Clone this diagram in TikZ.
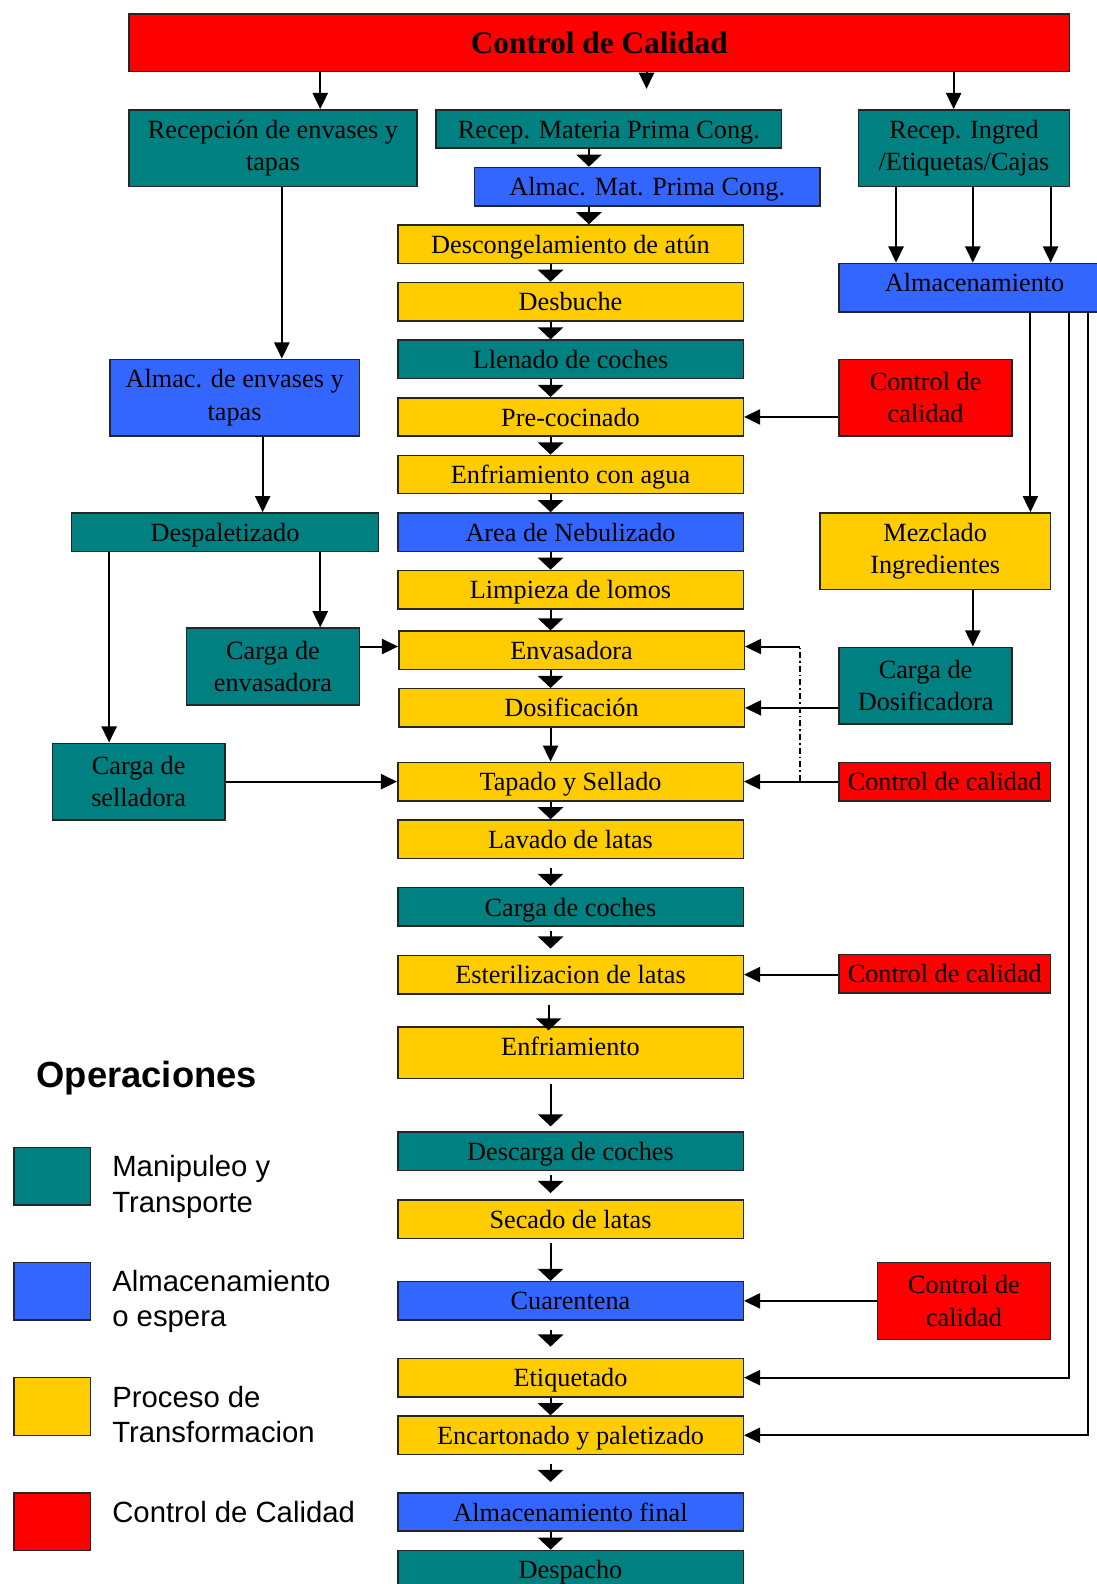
\documentclass[tikz,border=0pt]{standalone}
\usepackage{fontspec}
\setmainfont{Liberation Serif}
\setsansfont{Liberation Sans}
\usetikzlibrary{arrows.meta}
\definecolor{cteal}{RGB}{0,128,128}
\definecolor{cblue}{RGB}{51,102,255}
\definecolor{cyel}{RGB}{255,204,0}
\definecolor{cred}{RGB}{255,0,0}
% two-line box
\newcommand\bx[7]{\node[box,fill=#6,anchor=north west,minimum width={#4-#2},minimum height={#5-#3}] (#1) at (#2,#3) {#7};}
% one-line box: baseline 28 below the top; #8 = height-28
\newcommand\bxo[8]{\node[box,fill=#6,anchor=north west,minimum width={#4-#2},minimum height={#5-#3},text height=28pt,text depth=#8pt] (#1) at (#2,#3) {#7};}
\tikzset{
  box/.style={draw=black!85,line width=1.5pt,inner sep=0pt,align=center,font=\fontsize{26}{32}\selectfont},
  conn/.style={draw=black,line width=2pt},
  arrN/.style={conn,-{Triangle[width=15pt,length=16pt]}},
  arrW/.style={conn,-{Triangle[width=25pt,length=12pt]}},
  dashdot/.style={draw=black,line width=1.2pt,dash pattern=on 6pt off 3pt on 1.5pt off 3pt},
  swatch/.style={draw=black!85,line width=1.5pt,inner sep=0pt,minimum width=76pt,minimum height=57pt,anchor=north west},
  legtext/.style={anchor=west,align=left,inner sep=0pt,font=\sffamily\fontsize{29}{35}\selectfont}
}
\begin{document}
\begin{tikzpicture}[x=1pt,y=-1pt]
\useasboundingbox (0,0) rectangle (1085,1568);
% column coordinates
\coordinate (cA) at (317,0);
\coordinate (cB) at (640,0);
\coordinate (cC) at (944,0);
\coordinate (cD) at (583,0);
\coordinate (cM) at (545,0);
\coordinate (cE) at (543,0);
\coordinate (cR1) at (887,0);
\coordinate (cR2) at (963,0);
\coordinate (cR3) at (1040,0);
\coordinate (cL1) at (279,0);
\coordinate (cL2) at (260,0);
\coordinate (cL4) at (108,0);
\coordinate (cM2) at (1020,0);
\coordinate (cV1) at (1058,0);
\coordinate (cV2) at (1077,0);
\coordinate (r640) at (0,640);
\coordinate (ddtop) at (792,640);
\coordinate (ddbot) at (792,773);
\coordinate (topend) at (640,88);
% boxes
\node[box,fill=cred,anchor=north west,minimum width=931pt,minimum height=57pt,font=\bfseries\fontsize{31}{36}\selectfont] (top) at (127,13) {Control de Calidad};
\bx{rec}{127}{108}{412}{184}{cteal}{Recepción de envases y\\tapas}
\bxo{rmp}{431}{108}{773}{146}{cteal}{Recep. Materia Prima Cong.}{10}
\bx{ring}{849}{108}{1058}{184}{cteal}{Recep. Ingred\\/Etiquetas/Cajas}
\bxo{amp}{469}{165}{811}{203}{cblue}{Almac. Mat. Prima Cong.}{10}
\bxo{desc}{393}{222}{735}{260}{cyel}{Descongelamiento de atún}{10}
\bxo{desb}{393}{279}{735}{317}{cyel}{Desbuche}{10}
\bxo{llen}{393}{336}{735}{374}{cteal}{Llenado de coches}{10}
\bxo{prec}{393}{393}{735}{431}{cyel}{Pre-cocinado}{10}
\bxo{enfa}{393}{450}{735}{488}{cyel}{Enfriamiento con agua}{10}
\bxo{neb}{393}{507}{735}{545}{cblue}{Area de Nebulizado}{10}
\bxo{limp}{393}{564}{735}{602}{cyel}{Limpieza de lomos}{10}
\bxo{env}{394}{624}{736}{662}{cyel}{Envasadora}{10}
\bxo{dos}{394}{681}{736}{719}{cyel}{Dosificación}{10}
\bxo{tap}{393}{754}{735}{792}{cyel}{Tapado y Sellado}{10}
\bxo{lav}{393}{811}{735}{849}{cyel}{Lavado de latas}{10}
\bxo{carc}{393}{878}{735}{916}{cteal}{Carga de coches}{10}
\bxo{est}{393}{945}{735}{983}{cyel}{Esterilizacion de latas}{10}
\bxo{enfr}{393}{1016}{735}{1067}{cyel}{Enfriamiento}{23}
\bxo{desca}{393}{1120}{735}{1158}{cteal}{Descarga de coches}{10}
\bxo{sec}{393}{1187}{735}{1225}{cyel}{Secado de latas}{10}
\bxo{cuar}{393}{1268}{735}{1306}{cblue}{Cuarentena}{10}
\bxo{etiq}{393}{1344}{735}{1382}{cyel}{Etiquetado}{10}
\bxo{enc}{393}{1401}{735}{1439}{cyel}{Encartonado y paletizado}{10}
\bxo{almf}{393}{1477}{735}{1515}{cblue}{Almacenamiento final}{10}
\bxo{desp}{393}{1534}{735}{1572}{cteal}{Despacho}{10}
% right
\bxo{alm}{830}{260}{1098}{308}{cblue}{Almacenamiento}{20}
\bx{cc1}{830}{355}{1001}{431}{cred}{Control de\\calidad}
\bx{mez}{811}{507}{1039}{583}{cyel}{Mezclado\\Ingredientes}
\bx{cdos}{830}{640}{1001}{716}{cteal}{Carga de\\Dosificadora}
\bxo{cc2}{830}{754}{1039}{792}{cred}{Control de calidad}{10}
\bxo{cc3}{830}{944}{1039}{982}{cred}{Control de calidad}{10}
\bx{cc4}{868}{1249}{1039}{1325}{cred}{Control de\\calidad}
% left
\bx{alme}{108}{355}{355}{431}{cblue}{Almac. de envases y\\tapas}
\bxo{despal}{70}{507}{374}{545}{cteal}{Despaletizado}{10}
\bx{cenv}{184}{621}{355}{697}{cteal}{Carga de\\envasadora}
\bx{csel}{51}{735}{222}{811}{cteal}{Carga de\\selladora}
% legend
\node[anchor=west,inner sep=0pt,font=\sffamily\bfseries\fontsize{36}{40}\selectfont] (oper) at (36,1067) {Operaciones};
\node[swatch,fill=cteal] (sw1) at (13,1135) {};
\node[swatch,fill=cblue] (sw2) at (13,1249) {};
\node[swatch,fill=cyel] (sw3) at (13,1363) {};
\node[swatch,fill=cred] (sw4) at (13,1477) {};
\node[legtext] (lg1) at (111,1175) {Manipuleo y\\Transporte};
\node[legtext] (lg2) at (111,1288) {Almacenamiento\\o espera};
\node[legtext] (lg3) at (111,1400) {Proceso de\\Transformacion};
\node[legtext] (lg4) at (111,1497) {Control de Calidad};
% top arrows
\draw[arrN] (top.south -| cA) -- (rec.north -| cA);
\draw[arrN] (top.south -| cB) -- (topend);
\draw[arrN] (top.south -| cC) -- (ring.north -| cC);
% main column
\draw[arrW] (rmp.south -| cD) -- (amp.north -| cD);
\draw[arrW] (amp.south -| cD) -- (desc.north -| cD);
\draw[arrW] (desc.south -| cM) -- (desb.north -| cM);
\draw[arrW] (desb.south -| cM) -- (llen.north -| cM);
\draw[arrW] (llen.south -| cM) -- (prec.north -| cM);
\draw[arrW] (prec.south -| cM) -- (enfa.north -| cM);
\draw[arrW] (enfa.south -| cM) -- (neb.north -| cM);
\draw[arrW] (neb.south -| cM) -- (limp.north -| cM);
\draw[arrW] (limp.south -| cM) -- (env.north -| cM);
\draw[arrW] (env.south -| cM) -- (dos.north -| cM);
\draw[arrN] (dos.south -| cM) -- (tap.north -| cM);
\draw[arrW] (tap.south -| cM) -- (lav.north -| cM);
\draw[arrW] ([yshift=-9pt]lav.south -| cM) -- ([yshift=1pt]carc.north -| cM);
\draw[arrW] ([yshift=-4pt]carc.south -| cM) -- ([yshift=6pt]est.north -| cM);
\draw[arrW] ([yshift=-10pt]est.south -| cE) -- ([yshift=-4pt]enfr.north -| cE);
\draw[arrW] ([yshift=-5pt]enfr.south -| cM) -- ([yshift=5pt]desca.north -| cM);
\draw[arrW] ([yshift=-4pt]desca.south -| cM) -- ([yshift=6pt]sec.north -| cM);
\draw[arrW] ([yshift=-4pt]sec.south -| cM) -- (cuar.north -| cM);
\draw[arrW] ([yshift=-9pt]cuar.south -| cM) -- ([yshift=11pt]etiq.north -| cM);
\draw[arrW] (etiq.south -| cM) -- (enc.north -| cM);
\draw[arrW] ([yshift=-9pt]enc.south -| cM) -- ([yshift=10pt]almf.north -| cM);
\draw[arrW] (almf.south -| cM) -- (desp.north -| cM);
% right side
\draw[arrN] (ring.south -| cR1) -- (alm.north -| cR1);
\draw[arrN] (ring.south -| cR2) -- (alm.north -| cR2);
\draw[arrN] (ring.south -| cR3) -- (alm.north -| cR3);
\draw[arrN] (cc1.west |- prec.east) -- (prec.east);
\draw[arrN] (alm.south -| cM2) -- (mez.north -| cM2);
\draw[arrN] (mez.south -| cR2) -- (cdos.north -| cR2);
\draw[arrN] (cdos.west |- dos.east) -- (dos.east);
\draw[arrN] (cc2.west |- tap.east) -- (tap.east);
\draw[dashdot] (ddbot) -- (ddtop);
\draw[arrN] (ddtop) -- (env.east |- ddtop);
\draw[arrN] (cc3.west |- est.east) -- (est.east);
\draw[arrN] (cc4.west |- cuar.east) -- (cuar.east);
\draw[arrN] (alm.south -| cV1) |- (etiq.east);
\draw[arrN] (alm.south -| cV2) |- (enc.east);
% left side
\draw[arrN] (rec.south -| cL1) -- (alme.north -| cL1);
\draw[arrN] (alme.south -| cL2) -- (despal.north -| cL2);
\draw[arrN] (despal.south -| cA) -- (cenv.north -| cA);
\draw[arrN] (despal.south -| cL4) -- (csel.north -| cL4);
\draw[arrN] (cenv.east |- r640) -- (env.west |- r640);
\draw[arrN] (csel.east |- tap.west) -- (tap.west);
\end{tikzpicture}
\end{document}
